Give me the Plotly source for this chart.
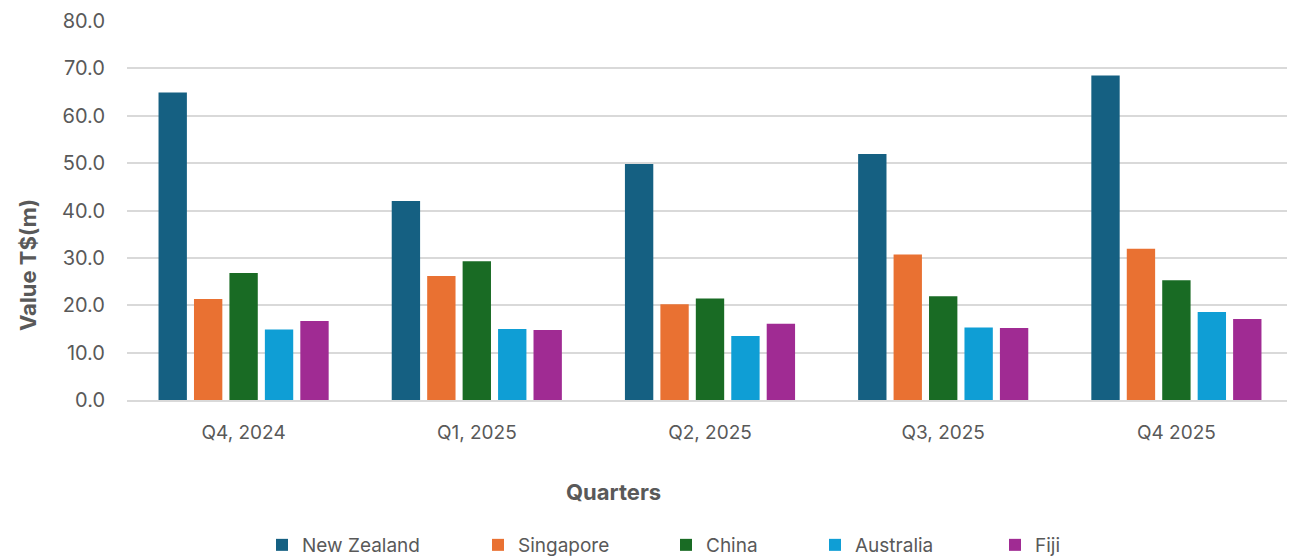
import plotly.graph_objects as go

quarters = ["Q4, 2024", "Q1, 2025", "Q2, 2025", "Q3, 2025", "Q4 2025"]
series_names = ["New Zealand", "Singapore", "China", "Australia", "Fiji"]
new_zealand = [64.9, 42.0, 49.8, 51.9, 68.5]
singapore = [21.3, 26.2, 20.2, 30.7, 31.9]
china = [26.8, 29.3, 21.4, 21.9, 25.3]
australia = [14.9, 15.0, 13.5, 15.3, 18.6]
fiji = [16.7, 14.8, 16.1, 15.2, 17.1]
colors = ["#156082", "#E97132", "#196B24", "#0F9ED5", "#A02B93"]

values = [new_zealand, singapore, china, australia, fiji]

# page body has an 8px default margin; figure is sized to fit the window
W, H = 1287, 551
L, R, T, B = 119, 2, 13, 159
PW = W - L - R
PH = H - T - B

legend_px = [262, 478, 666, 815, 995]  # left x of each legend entry in window px
legend_keys = ["legend", "legend2", "legend3", "legend4", "legend5"]

fig = go.Figure()
for name, vals, col, lk in zip(series_names, values, colors, legend_keys):
    fig.add_trace(go.Bar(name=name, x=quarters, y=vals, marker_color=col,
                         marker_line_width=0, legend=lk))

FONT = "Inter, Open Sans, sans-serif"
legends = {}
for lk, px in zip(legend_keys, legend_px):
    legends[lk] = dict(orientation="h", x=(px - 8 - L) / PW, xanchor="left",
                       y=(PH - (545 - 8 - T)) / PH, yanchor="middle",
                       font=dict(size=19, color="#595959"), itemwidth=30,
                       bgcolor="rgba(0,0,0,0)")

fig.update_layout(
    width=W, height=H,
    margin=dict(l=L, r=R, t=T, b=B, autoexpand=False),
    paper_bgcolor="white", plot_bgcolor="white",
    barmode="group", bargap=0.24, bargroupgap=0.2,
    font=dict(family=FONT, color="#595959", size=18),
    showlegend=True,
    annotations=[
        dict(text="<b>Value T$(m)</b>", xref="paper", yref="paper",
             x=(28 - 8 - L) / PW, y=(PH - (265 - 8 - T)) / PH,
             xanchor="center", yanchor="middle",
             textangle=-90, showarrow=False,
             font=dict(size=22, color="#595959")),
        dict(text="<b>Quarters</b>", xref="paper", yref="paper",
             x=(613 - 8 - L) / PW, y=(PH - (492 - 8 - T)) / PH,
             xanchor="center", yanchor="middle",
             showarrow=False, font=dict(size=22, color="#595959")),
    ],
    **legends,
)
fig.update_yaxes(range=[0, 80], dtick=10, tickformat=".1f", automargin=False,
                 showgrid=True, gridcolor="#D9D9D9", gridwidth=1.5,
                 zeroline=False, showline=False,
                 ticks="outside", ticklen=17, tickcolor="rgba(0,0,0,0)",
                 tickfont=dict(size=20, color="#595959"),
                 fixedrange=True)
fig.update_xaxes(showline=True, linecolor="#D9D9D9", linewidth=1.5, automargin=False,
                 ticks="outside", ticklen=14, tickcolor="rgba(0,0,0,0)",
                 tickfont=dict(size=19, color="#595959"))

fig.write_html("out.html")
